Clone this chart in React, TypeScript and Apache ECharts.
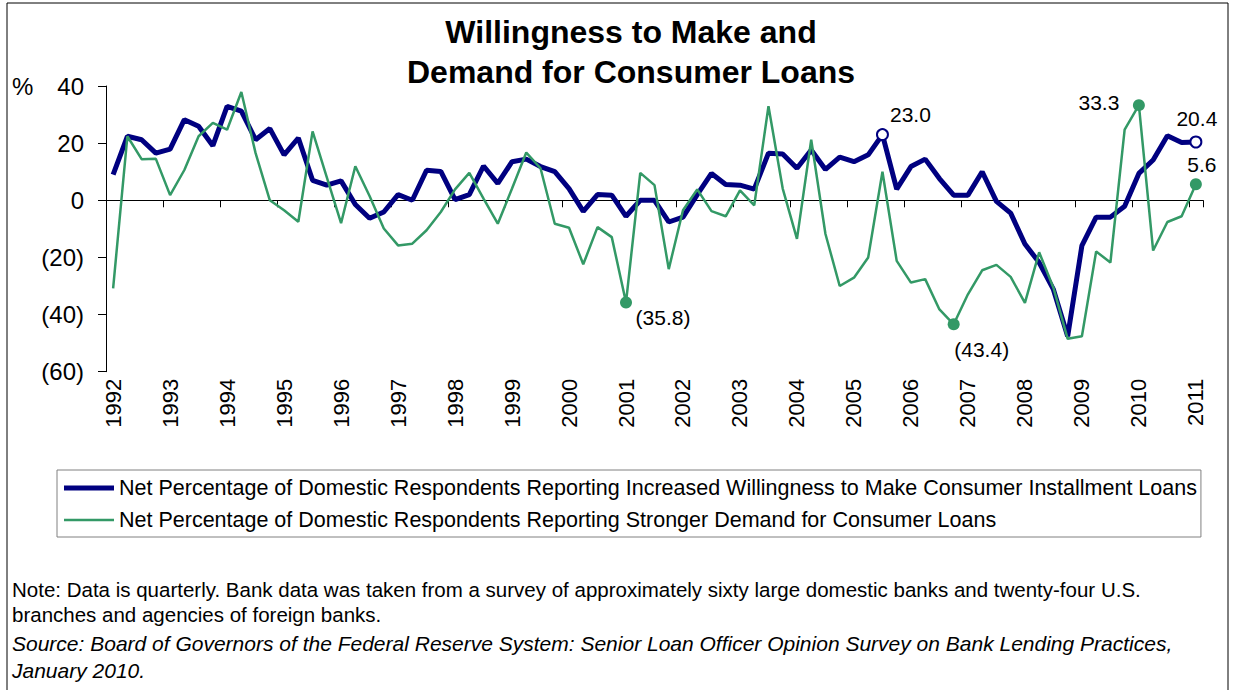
import React, { useEffect, useRef } from "react";
import * as echarts from "echarts";

const years = [1992, 1993, 1994, 1995, 1996, 1997, 1998, 1999, 2000, 2001, 2002, 2003, 2004, 2005, 2006, 2007, 2008, 2009, 2010, 2011];
const quarters = ["Q1", "Q2", "Q3", "Q4"];
const pointCount = 77;

const willingness = [
  9.0, 22.4, 21.2, 16.5, 17.9, 28.2, 25.9, 19.1, 32.9, 31.2,
  21.2, 25.1, 15.9, 21.8, 7.0, 5.3, 6.8, -1.5, -6.3, -4.1,
  2.0, 0.0, 10.5, 10.1, 0.2, 2.0, 12.0, 5.9, 13.5, 14.4,
  11.8, 10.0, 4.1, -3.9, 2.0, 1.8, -5.6, 0.0, 0.0, -7.6,
  -5.9, 2.0, 9.4, 5.5, 5.3, 3.9, 16.5, 16.2, 11.2, 17.6,
  10.8, 15.1, 13.5, 15.9, 23.0, 3.9, 11.8, 14.4, 7.6, 1.8,
  1.8, 10.0, -0.4, -4.5, -15.3, -21.8, -31.2, -47.6, -15.9, -5.9,
  -5.9, -2.1, 9.4, 14.1, 22.6, 20.2, 20.4,
];

const demand = [
  -30.8, 22.4, 14.4, 14.5, 1.8, 10.6, 22.4, 27.1, 24.7, 37.9,
  16.5, 0.0, -3.5, -7.5, 24.1, 8.0, -8.0, 11.9, 1.5, -9.9,
  -15.8, -15.2, -10.5, -4.1, 3.8, 9.6, 0.6, -8.2, 4.1, 16.7,
  11.2, -8.2, -9.6, -22.4, -9.4, -12.9, -35.8, 9.6, 5.3, -24.1,
  -3.5, 3.8, -3.8, -5.6, 3.5, -1.8, 32.9, 4.1, -13.5, 21.2,
  -11.8, -30.0, -27.1, -20.0, 10.0, -21.2, -28.8, -27.6, -38.2, -43.4,
  -32.9, -24.5, -22.6, -26.8, -35.9, -18.2, -30.6, -48.5, -47.6, -17.9,
  -21.8, 24.7, 33.3, -17.6, -7.6, -5.6, 5.6,
];

const yTicks = { min: -60, max: 40, interval: 20 };

const willingnessName = "Net Percentage of Domestic Respondents Reporting Increased Willingness to Make Consumer Installment Loans";
const demandName = "Net Percentage of Domestic Respondents Reporting Stronger Demand for Consumer Loans";

// labelled points: index and label offset
const willingnessMarks = [
  { index: 54, offset: [28, -20] },
  { index: 76, offset: [1, -23] },
];
const demandMarks = [
  { index: 36, offset: [37, 15] },
  { index: 59, offset: [28, 25] },
  { index: 72, offset: [-40, -3] },
  { index: 76, offset: [6, -20] },
];

const titleLines = ["Willingness to Make and", "Demand for Consumer Loans"];
const noteLines = [
  "Note: Data is quarterly. Bank data was taken from a survey of approximately sixty large domestic banks and twenty-four U.S.",
  "branches and agencies of foreign banks.",
];
const sourceLines = [
  "Source: Board of Governors of the Federal Reserve System: Senior Loan Officer Opinion Survey on Bank Lending Practices,",
  "January 2010.",
];

const FONT = "'Liberation Sans', Arial, Helvetica, sans-serif";
const BLUE = "#000080";
const GREEN = "#339966";

const categories: string[] = [];
years.forEach((y) => quarters.forEach((q) => categories.push(`${y} ${q}`)));
categories.length = pointCount;

const fmt = (v: number) => (v < 0 ? `(${(-v).toFixed(1)})` : v.toFixed(1));

function buildData(values: number[], marks: { index: number; offset: number[] }[], hollow: boolean, color: string) {
  return values.map((v, i) => {
    const m = marks.find((mk) => mk.index === i);
    if (!m) return v;
    return {
      value: v,
      symbol: "circle",
      symbolSize: hollow ? 11 : 12,
      itemStyle: hollow
        ? { color: "#ffffff", borderColor: color, borderWidth: 2 }
        : { color: color, borderWidth: 0 },
      label: {
        show: true,
        position: "inside",
        offset: m.offset,
        formatter: () => fmt(v),
        color: "#000",
        fontSize: 21,
        fontFamily: FONT,
        textBorderWidth: 0,
      },
    };
  });
}

export default function App() {
  const ref = useRef<HTMLDivElement>(null);
  useEffect(() => {
    if (!ref.current) return;
    const chart = echarts.init(ref.current, undefined, { renderer: "svg" });
    const graphics: any[] = [
      {
        type: "rect",
        shape: { x: 7, y: 3, width: 1221, height: 700 },
        style: { fill: "none", stroke: "#000", lineWidth: 1 },
        silent: true,
      },
      {
        type: "text",
        x: 631,
        y: 12,
        style: {
          text: titleLines.join("\n"),
          font: `bold 32px ${FONT}`,
          lineHeight: 40,
          fill: "#000",
          textAlign: "center",
          verticalAlign: "top",
        },
      },
      {
        type: "text",
        x: 12,
        y: 86,
        style: { text: "%", font: `24px ${FONT}`, fill: "#000", textAlign: "left", verticalAlign: "middle" },
      },
    ];
    noteLines.forEach((t, i) => {
      graphics.push({
        type: "text",
        x: 12,
        y: 589 + i * 25,
        style: { text: t, font: `20.5px ${FONT}`, fill: "#000", textAlign: "left", verticalAlign: "middle" },
      });
    });
    sourceLines.forEach((t, i) => {
      graphics.push({
        type: "text",
        x: 12,
        y: 643 + i * 27,
        style: { text: t, font: `italic 21px ${FONT}`, fill: "#000", textAlign: "left", verticalAlign: "middle" },
      });
    });

    chart.setOption({
      animation: false,
      backgroundColor: "#ffffff",
      textStyle: { fontFamily: FONT },
      grid: { left: 106, right: 30, top: 86, bottom: 318.3, containLabel: false },
      legend: {
        orient: "vertical",
        left: 57,
        top: 470,
        padding: [7, 4, 6, 7],
        itemGap: 10,
        itemWidth: 50,
        itemHeight: 14,
        borderColor: "#808080",
        borderWidth: 1,
        selectedMode: false,
        textStyle: { fontSize: 21.5, color: "#000", fontFamily: FONT, lineHeight: 22 },
        data: [
          { name: willingnessName, icon: "path://M0,0H50V5H0Z" },
          { name: demandName, icon: "path://M0,0H50V2.5H0Z" },
        ],
      },
      xAxis: {
        type: "category",
        data: categories,
        boundaryGap: true,
        axisLine: { onZero: true, lineStyle: { color: "#000", width: 1 } },
        axisTick: { show: true, interval: 3, length: 7, lineStyle: { color: "#000" } },
        axisLabel: {
          interval: 3,
          rotate: 90,
          margin: 7,
          fontSize: 22,
          color: "#000",
          fontFamily: FONT,
          formatter: (v: string) => v.slice(0, 4),
        },
        splitLine: { show: false },
      },
      yAxis: {
        type: "value",
        min: yTicks.min,
        max: yTicks.max,
        interval: yTicks.interval,
        axisLine: { show: true, lineStyle: { color: "#000", width: 1 } },
        axisTick: { show: true, length: 8, lineStyle: { color: "#000" } },
        axisLabel: {
          margin: 22,
          fontSize: 24,
          color: "#000",
          fontFamily: FONT,
          formatter: (v: number) => (v < 0 ? `(${-v})` : `${v}`),
        },
        splitLine: { show: false },
      },
      series: [
        {
          name: willingnessName,
          type: "line",
          data: buildData(willingness, willingnessMarks, true, BLUE),
          symbol: "none",
          showSymbol: true,
          lineStyle: { color: BLUE, width: 5 },
          itemStyle: { color: BLUE },
          silent: true,
          emphasis: { disabled: true },
          z: 2,
        },
        {
          name: demandName,
          type: "line",
          data: buildData(demand, demandMarks, false, GREEN),
          symbol: "none",
          showSymbol: true,
          lineStyle: { color: GREEN, width: 2.5 },
          itemStyle: { color: GREEN },
          silent: true,
          emphasis: { disabled: true },
          z: 3,
        },
      ],
      graphic: graphics,
    });
    return () => chart.dispose();
  }, []);
  return (
    <div
      ref={ref}
      style={{ position: "absolute", left: 0, top: 0, width: 1233, height: 690, background: "#fff" }}
    />
  );
}
